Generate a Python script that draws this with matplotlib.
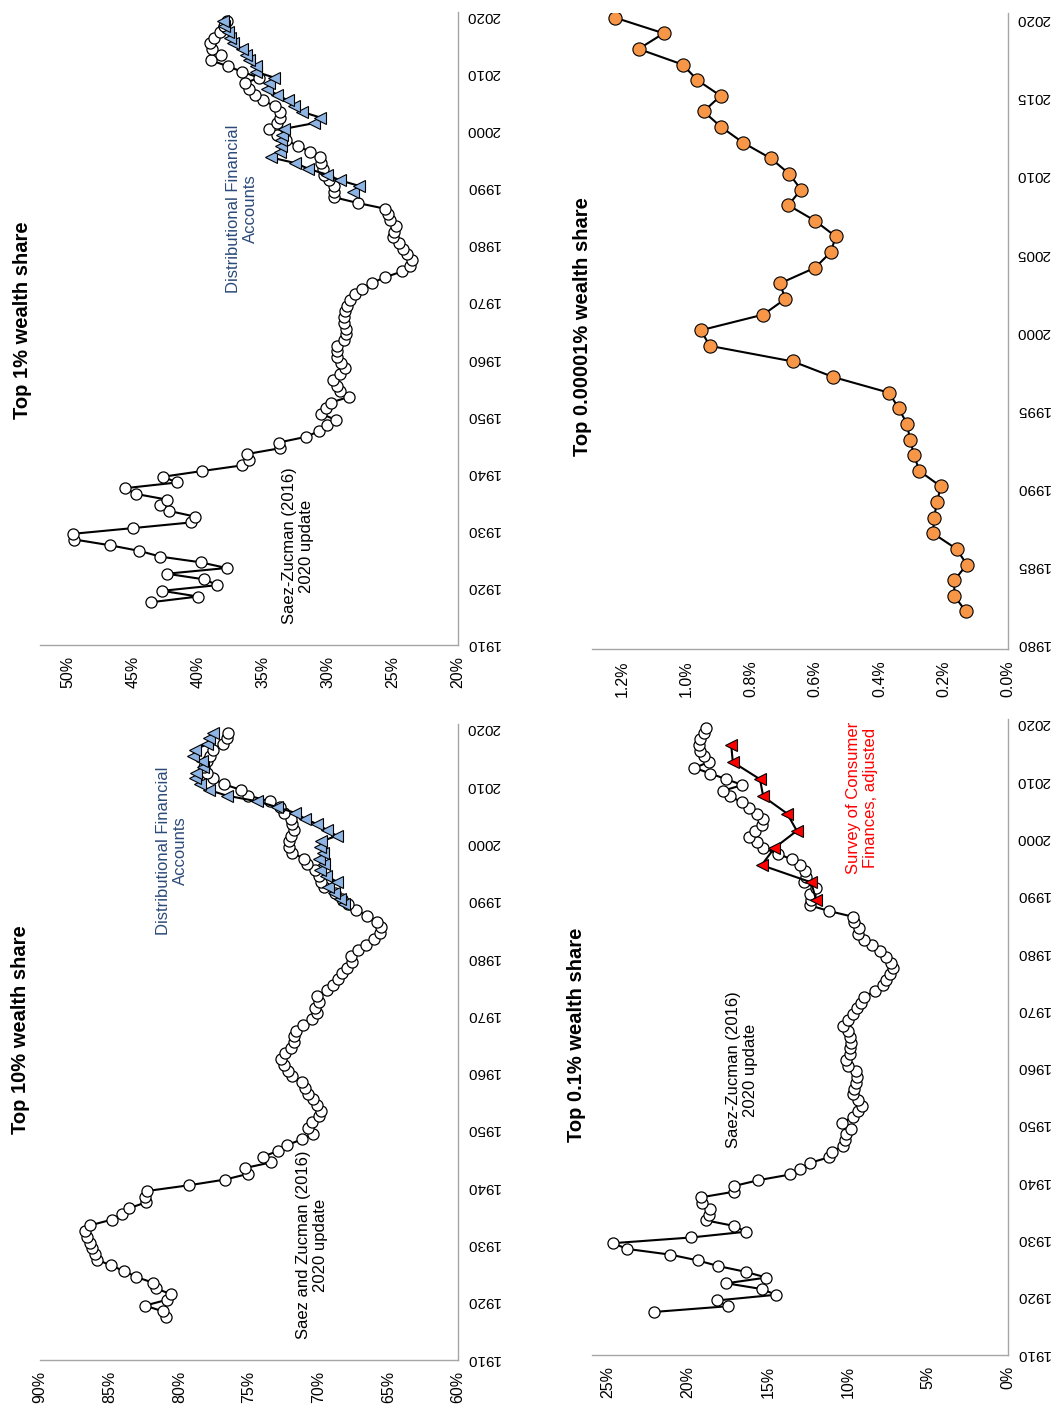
import matplotlib.pyplot as plt

plt.rcParams['font.family'] = ['Liberation Sans', 'DejaVu Sans']

# ---- data (shares in percent) ----
sz_years = list(range(1917, 2020))
top10_sz = [80.95, 81.2, 82.46, 80.9, 80.6, 81.7, 81.9, 83.1, 83.95, 84.9,
            85.9, 86.05, 86.3, 86.4, 86.65, 86.8, 86.4, 84.85, 84.1, 83.6,
            82.4, 82.5, 82.3, 79.3, 76.7, 75.05, 75.3, 73.4, 74.0, 72.9,
            72.3, 71.2, 70.4, 70.8, 70.5, 70.0, 69.8, 70.1, 70.4, 70.8,
            71.0, 71.2, 71.9, 72.2, 72.5, 72.7, 72.4, 72.0, 71.8, 71.8,
            71.6, 71.1, 70.5, 70.1, 70.25, 70.0, 70.1, 69.4, 69.0, 68.6,
            68.3, 68.0, 67.6, 67.7, 67.2, 66.6, 66.0, 65.6, 65.5, 65.8,
            66.5, 67.3, 67.9, 68.3, 68.8, 69.65, 69.8, 70.0, 70.25, 70.85,
            71.05, 71.9, 72.1, 72.1, 72.0, 71.8, 71.9, 72.0, 72.5, 72.8,
            73.5, 75.05, 75.6, 76.8, 77.6, 78.0, 78.2, 78.0, 77.8, 77.6,
            76.9, 76.55, 76.5]
top1_sz = [43.6, 40.0, 42.75, 38.5, 39.5, 42.4, 37.8, 39.8, 42.9, 44.5,
           46.8, 49.5, 49.6, 45.0, 40.5, 40.2, 42.2, 42.9, 42.4, 44.8,
           45.6, 41.6, 42.7, 39.7, 36.6, 36.05, 36.2, 33.7, 33.8, 31.7,
           30.7, 30.1, 29.4, 30.5, 30.15, 29.8, 28.4, 29.1, 29.3, 29.6,
           29.1, 28.7, 29.0, 29.3, 29.3, 29.3, 28.8, 28.6, 28.6, 28.8,
           28.8, 28.7, 28.5, 28.3, 27.9, 27.4, 26.6, 25.6, 24.3, 23.7,
           23.5, 23.9, 24.2, 24.5, 25.0, 24.9, 24.8, 25.2, 25.4, 25.6,
           27.7, 29.5, 29.5, 29.5, 29.9, 30.3, 30.4, 30.5, 30.6, 31.4,
           32.3, 33.2, 33.95, 34.5, 33.95, 33.7, 33.7, 34.1, 35.0, 35.6,
           36.1, 36.4, 35.3, 36.6, 37.7, 39.0, 38.2, 38.9, 39.1, 38.8,
           38.3, 38.0, 37.8]
top01_sz = [22.1, 17.5, 18.2, 14.5, 15.4, 17.6, 15.1, 16.4, 18.1, 19.4,
            21.1, 23.8, 24.7, 19.8, 16.4, 17.1, 18.9, 18.7, 18.6, 19.1,
            19.2, 17.1, 17.1, 15.6, 13.6, 13.0, 12.4, 11.2, 11.0, 10.3,
            10.2, 10.1, 9.8, 10.4, 9.7, 9.4, 9.1, 9.4, 9.7, 9.6,
            9.5, 9.45, 9.5, 10.0, 10.1, 9.9, 9.9, 9.8, 9.9, 10.0,
            10.3, 10.0, 9.7, 9.45, 9.2, 9.0, 8.3, 7.8, 7.6, 7.4,
            7.2, 7.3, 7.6, 8.0, 8.5, 9.0, 9.36, 9.3, 9.6, 9.7,
            11.2, 12.4, 12.3, 12.4, 12.0, 12.75, 12.6, 12.7, 13.0, 13.5,
            14.4, 15.3, 15.7, 16.2, 15.8, 15.4, 15.3, 15.7, 16.2, 16.6,
            17.4, 17.8, 16.6, 17.6, 18.6, 19.6, 18.7, 19.0, 19.25, 19.3,
            19.25, 19.0, 18.9]

dfa_years = list(range(1989, 2020))
top10_dfa = [68.2, 68.5, 68.9, 69.3, 68.7, 69.5, 69.9, 69.6, 70.0, 69.7,
             69.9, 69.8, 68.7, 69.4, 70.1, 71.0, 71.7, 73.0, 74.4, 76.6,
             77.9, 78.5, 78.9, 78.8, 78.3, 78.4, 79.0, 78.9, 78.0, 77.85,
             77.6]
top1_dfa = [28.05, 27.6, 29.1, 30.1, 31.5, 32.5, 34.4, 33.7, 33.6, 33.6,
            33.5, 33.4, 31.1, 30.6, 32.0, 32.6, 33.1, 33.9, 34.7, 34.5,
            34.15, 35.5, 35.5, 36.05, 36.3, 36.6, 37.3, 37.5, 37.7, 38.0,
            38.1]

scf_years = [1989, 1992, 1995, 1998, 2001, 2004, 2007, 2010, 2013, 2016]
top01_scf = [12.0, 12.3, 15.4, 14.6, 13.2, 13.8, 15.3, 15.5, 17.2, 17.3]

forbes_years = list(range(1982, 2021))
top00001 = [0.131, 0.167, 0.167, 0.128, 0.160, 0.233, 0.230, 0.221, 0.209, 0.276,
            0.292, 0.305, 0.314, 0.340, 0.370, 0.543, 0.669, 0.928, 0.955, 0.761,
            0.693, 0.709, 0.600, 0.551, 0.536, 0.600, 0.683, 0.644, 0.680, 0.738,
            0.824, 0.892, 0.947, 0.894, 0.966, 1.012, 1.149, 1.071, 1.222]

# ---- layout helpers (pixel boxes of the 1057x1414 canvas) ----
W, H = 1057, 1414
fig = plt.figure(figsize=(W / 100, H / 100), dpi=100)


def px_axes(left, top, right, bottom):
    return fig.add_axes([left / W, 1 - bottom / H, (right - left) / W, (bottom - top) / H])


def style(ax, xlim, ylim, xticks, xlabels, yticks):
    ax.set_xlim(*xlim)
    ax.set_ylim(*ylim)
    ax.spines['top'].set_visible(False)
    ax.spines['left'].set_visible(False)
    for s in ['bottom', 'right']:
        ax.spines[s].set_color('#a6a6a6')
        ax.spines[s].set_linewidth(1.0)
    ax.yaxis.tick_right()
    ax.set_xticks(xticks)
    ax.set_xticklabels(xlabels, rotation=90)
    ax.set_yticks(yticks)
    ax.set_yticklabels([str(y) for y in yticks], rotation=180)
    ax.tick_params(axis='x', length=0, labelsize=11.5, pad=8)
    ax.tick_params(axis='y', length=0, labelsize=11, pad=6)


def ftext(x, y, s, **kw):
    fig.text(x / W, 1 - y / H, s, rotation=90, ha='center', va='center',
             multialignment='center', **kw)


circ = dict(color='black', lw=1.5, marker='o', ms=8, mfc='white', mec='black', mew=0.9)
tri = dict(color='black', lw=1.5, marker='<', ms=9, mec='black', mew=0.8)
dfa_col = '#8db4e2'
dfa_text = '#2b4a78'

# Top 10%
ax = px_axes(40, 724, 458, 1360)
style(ax, (90, 60), (1909.5, 2020.5), list(range(60, 91, 5)),
      ['%d%%' % v for v in range(60, 91, 5)], list(range(1910, 2021, 10)))
ax.plot(top10_sz, sz_years, **circ, zorder=2)
ax.plot(top10_dfa, dfa_years, mfc=dfa_col, **tri, zorder=3)

# Top 1%
ax = px_axes(40, 12, 458, 645)
style(ax, (52.15, 20), (1909.5, 2020.5), list(range(20, 51, 5)),
      ['%d%%' % v for v in range(20, 51, 5)], list(range(1910, 2021, 10)))
ax.plot(top1_sz, sz_years, **circ, zorder=2)
ax.plot(top1_dfa, dfa_years, mfc=dfa_col, **tri, zorder=3)

# Top 0.1%
ax = px_axes(592, 719, 1008, 1355)
style(ax, (26, 0), (1909.48, 2020.52), list(range(0, 26, 5)),
      ['%d%%' % v for v in range(0, 26, 5)], list(range(1910, 2021, 10)))
ax.plot(top01_sz, sz_years, **circ, zorder=2)
ax.plot(top01_scf, scf_years, mfc='#ff0000', **tri, zorder=3)

# Top 0.00001%
ax = px_axes(592, 13, 1008, 649)
pct = [0.0, 0.2, 0.4, 0.6, 0.8, 1.0, 1.2]
style(ax, (1.294, 0), (1979.6, 2020.3), pct, ['%.1f%%' % v for v in pct],
      list(range(1980, 2021, 5)))
ax.plot(top00001, forbes_years, color='black', lw=1.5, marker='o', ms=9.5,
        mfc='#f79646', mec='black', mew=0.8)

# titles and notes
title_kw = dict(fontsize=14.5, fontweight='bold')
ftext(21, 1030, 'Top 10% wealth share', **title_kw)
ftext(23, 320, 'Top 1% wealth share', **title_kw)
ftext(577, 1035, 'Top 0.1% wealth share', **title_kw)
ftext(582, 327, 'Top 0.00001% wealth share', **title_kw)

note_kw = dict(fontsize=12)
ftext(172, 851, 'Distributional Financial\nAccounts', color=dfa_text, **note_kw)
ftext(242, 209, 'Distributional Financial\nAccounts', color=dfa_text, **note_kw)
ftext(312, 1245, 'Saez and Zucman (2016)\n2020 update', color='black', **note_kw)
ftext(298, 546, 'Saez-Zucman (2016)\n2020 update', color='black', **note_kw)
ftext(742, 1070, 'Saez-Zucman (2016)\n2020 update', color='black', **note_kw)
ftext(862, 798, 'Survey of Consumer\nFinances, adjusted', color='#ff0000', **note_kw)

fig.savefig('out.png', dpi=100)
